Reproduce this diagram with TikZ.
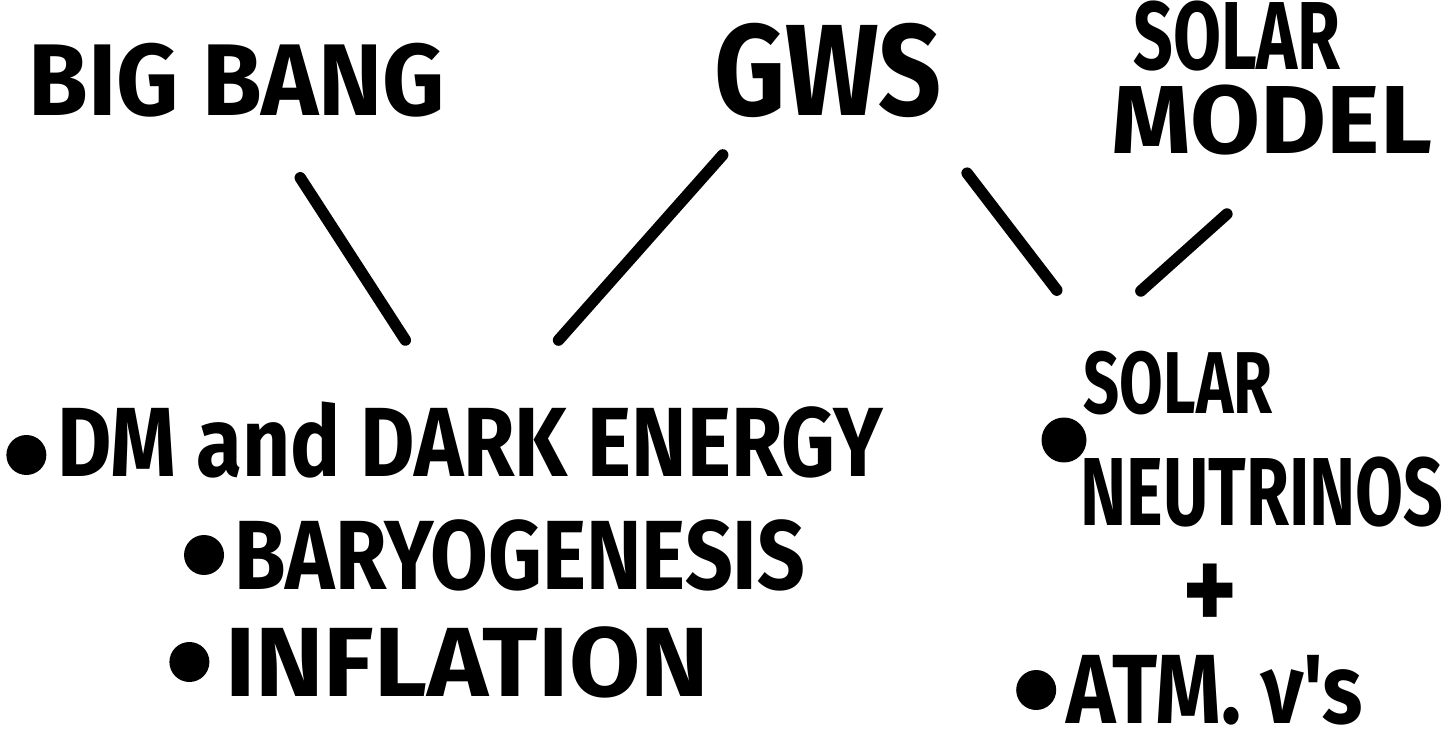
\documentclass[tikz,border=0pt]{standalone}
\usepackage{fontspec}
\usepackage{tikz}
\usetikzlibrary{positioning}
\newfontfamily\narrowfont[FakeStretch=0.72]{Fira Sans}
\newfontfamily\markerfont[FakeStretch=0.85]{Fira Sans}
\newfontfamily\roundfont[FakeStretch=0.95]{Fira Sans}
\newfontfamily\widefont[FakeStretch=1.05]{Fira Sans}
\tikzset{
  head/.style={
    inner sep=0pt,
    font=\roundfont\bfseries\fontsize{58}{60}\selectfont
  },
  item/.style={
    inner sep=0pt,
    font=\markerfont\bfseries\fontsize{56}{60}\selectfont
  },
  dot/.style={circle, fill=black, minimum size=0.8cm, inner sep=0pt},
  stroke/.style={line width=6.5pt, line cap=round, draw=black}
}

\begin{document}
\begin{tikzpicture}[x=0.02cm, y=-0.02cm]
  \useasboundingbox (0,0) rectangle (1448,743);

  % sources
  \node[head] (bigbang) at (237,80) {BIG BANG};
  \node[head, font=\markerfont\bfseries\fontsize{74}{76}\selectfont] (gws) at (828,70) {GWS};
  \node[head, font=\narrowfont\bfseries\fontsize{55}{57}\selectfont] (solar) at (1237,36) {SOLAR};
  \node[head, font=\widefont\bfseries\fontsize{55}{57}\selectfont] (model) at (1272,120) {MODEL};

  % left list
  \node[item] (dm) at (470,440) {DM and DARK ENERGY};
  \node[item] (baryo) at (520,555) {BARYOGENESIS};
  \node[item, font=\widefont\bfseries\fontsize{56}{60}\selectfont] (infl) at (467,662) {INFLATION};
  \node[dot, left=2mm of dm, yshift=-3mm] (dmdot) {};
  \node[dot, left=2mm of baryo] (baryodot) {};
  \node[dot, left=3mm of infl] (infldot) {};

  % right list
  \node[item, font=\narrowfont\bfseries\fontsize{50}{52}\selectfont] (solarnu) at (1178,383) {SOLAR};
  \node[item, font=\narrowfont\bfseries\fontsize{55}{57}\selectfont] (neutrinos) at (1262,492) {NEUTRINOS};
  \node[item, font=\markerfont\bfseries\fontsize{70}{72}\selectfont] (plus) at (1210,598) {+};
  \node[item] (atm) at (1215,690) {ATM. ν's};
  \node[dot, minimum size=0.9cm] (solardot) at (1064,440) {};
  \node[dot, left=2mm of atm] (atmdot) {};

  \draw[stroke, shorten <=2.33cm, shorten >=2.38cm] (bigbang.center) -- (dm.center);
  \draw[stroke, shorten <=2.27cm, shorten >=2.67cm] ([xshift=-0.6cm]gws.center) -- (dm.center);
  \draw[stroke, shorten <=2.6cm, shorten >=2.34cm] ([xshift=1.2cm]gws.center) -- ([xshift=-1cm]solarnu.center);
  \draw[stroke, shorten <=2.82cm, shorten >=2.76cm] ([xshift=1.2cm]model.center) -- ([xshift=-2.8cm]solarnu.center);
\end{tikzpicture}
\end{document}
